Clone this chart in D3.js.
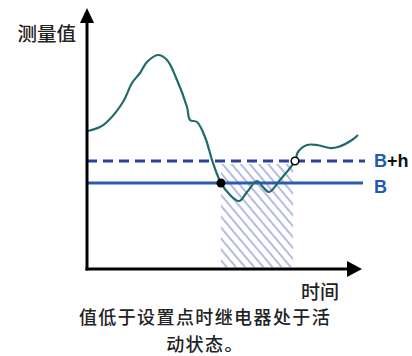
<!DOCTYPE html>
<html>
<head>
<meta charset="utf-8">
<script src="https://cdn.jsdelivr.net/npm/d3@7"></script>
<style>
  body { margin: 0; background: #fff; }
  text { font-family: "Noto Sans CJK SC", "Noto Sans", sans-serif; }
</style>
</head>
<body>
<div id="chart"></div>
<script>
var times  = [1, 13, 20, 36, 45, 53, 60, 71, 80, 90, 100, 103, 110, 118, 126, 134, 143, 152, 160, 170, 176, 182, 193, 208, 211, 220, 230, 243, 251, 265, 271];
var values = [138, 142, 147, 167, 186, 196, 207, 214, 209, 189, 162, 149, 147, 132, 106, 86, 74, 68, 77, 88, 82, 77, 89, 108, 117, 124, 124, 121, 122, 129, 134];

// set point and hysteresis
var setPoint = 86;   // B
var hyst = 22;       // h
var onTime = 134, offTime = 208;   // relay on / off crossings

var labels = {y: "测量值", x: "时间", caption: ["值低于设置点时继电器处于活", "动状态。"]};

var width = 412, height = 356;

var xScale = d3.scaleLinear().domain([0, 275]).range([87, 362]);
var yScale = d3.scaleLinear().domain([0, 261]).range([269, 8]);

var svg = d3.select("#chart").append("svg")
    .attr("width", width)
    .attr("height", height);

// hatch pattern
var defs = svg.append("defs");
var pat = defs.append("pattern")
    .attr("id", "hatch")
    .attr("patternUnits", "userSpaceOnUse")
    .attr("width", 7)
    .attr("height", 7)
    .attr("patternTransform", "rotate(-40)");
pat.append("line")
    .attr("x1", 2).attr("y1", 0)
    .attr("x2", 2).attr("y2", 7)
    .attr("stroke", "#94a0da")
    .attr("stroke-width", 1.4);

// active region
svg.append("rect")
    .attr("x", xScale(onTime))
    .attr("y", yScale(setPoint + hyst) + 3)
    .attr("width", xScale(offTime - 2) - xScale(onTime))
    .attr("height", yScale(0) - yScale(setPoint + hyst) - 5)
    .attr("fill", "url(#hatch)");

// B+h dashed
svg.append("line")
    .attr("x1", xScale(0)).attr("x2", xScale(278))
    .attr("y1", yScale(setPoint + hyst)).attr("y2", yScale(setPoint + hyst))
    .attr("stroke", "#2f3f9e")
    .attr("stroke-width", 3)
    .attr("stroke-dasharray", "10,6");

// B solid
svg.append("line")
    .attr("x1", xScale(0)).attr("x2", xScale(276))
    .attr("y1", yScale(setPoint)).attr("y2", yScale(setPoint))
    .attr("stroke", "#2b5cb5")
    .attr("stroke-width", 3);

// the measured curve
var data = times.map(function(t, i) { return {t: t, v: values[i]}; });
var valueline = d3.line()
    .x(function(d) { return xScale(d.t); })
    .y(function(d) { return yScale(d.v); })
    .curve(d3.curveCatmullRom);

svg.append("path")
    .datum(data)
    .attr("fill", "none")
    .attr("stroke", "#1f6b6b")
    .attr("stroke-width", 2.2)
    .attr("d", valueline);

// crossing dots
svg.append("circle")
    .attr("cx", xScale(onTime)).attr("cy", yScale(setPoint))
    .attr("r", 4.5).attr("fill", "#000");
svg.append("circle")
    .attr("cx", xScale(offTime)).attr("cy", yScale(setPoint + hyst))
    .attr("r", 3.8).attr("fill", "#fff")
    .attr("stroke", "#000").attr("stroke-width", 1.5);

// axes with arrows
var x0 = xScale(0), y0 = yScale(0), xEnd = xScale(275), yEnd = yScale(261);
svg.append("line")
    .attr("x1", x0).attr("x2", x0)
    .attr("y1", y0 + 1.5).attr("y2", yEnd + 12)
    .attr("stroke", "#000").attr("stroke-width", 3);
svg.append("path")
    .attr("d", "M" + x0 + "," + yEnd + "L" + (x0 - 7) + "," + (yEnd + 15) + "L" + (x0 + 7) + "," + (yEnd + 15) + "Z")
    .attr("fill", "#000");
svg.append("line")
    .attr("x1", x0 - 1.5).attr("x2", xEnd - 12)
    .attr("y1", y0).attr("y2", y0)
    .attr("stroke", "#000").attr("stroke-width", 3);
svg.append("path")
    .attr("d", "M" + xEnd + "," + y0 + "L" + (xEnd - 15) + "," + (y0 - 8) + "L" + (xEnd - 15) + "," + (y0 + 8) + "Z")
    .attr("fill", "#000");

// line labels
var bh = svg.append("text")
    .attr("x", 374).attr("y", yScale(setPoint + hyst) + 6)
    .style("font-family", "'Liberation Sans', Arial, sans-serif")
    .style("font-weight", "bold")
    .style("font-size", "18px");
bh.append("tspan").attr("fill", "#2159b8").text("B");
bh.append("tspan").attr("fill", "#111").text("+h");

svg.append("text")
    .attr("x", 374).attr("y", yScale(setPoint) + 10)
    .style("font-family", "'Liberation Sans', Arial, sans-serif")
    .style("font-weight", "bold")
    .style("font-size", "18px")
    .attr("fill", "#2159b8")
    .text("B");

// axis titles
svg.append("text")
    .attr("x", 76).attr("y", 41)
    .attr("text-anchor", "end")
    .style("font-size", "19.5px")
    .style("font-weight", 500)
    .attr("fill", "#222")
    .text(labels.y);

svg.append("text")
    .attr("x", 339).attr("y", 299)
    .attr("text-anchor", "end")
    .style("font-size", "19px")
    .style("font-weight", 500)
    .attr("fill", "#222")
    .text(labels.x);

// caption, two wrapped lines
svg.selectAll(".caption")
    .data(labels.caption)
  .enter().append("text")
    .attr("class", "caption")
    .attr("x", 205)
    .attr("y", function(d, i) { return 324 + i * 26.5; })
    .attr("text-anchor", "middle")
    .style("font-size", "18px")
    .style("letter-spacing", "1.4px")
    .style("font-weight", 500)
    .attr("fill", "#222")
    .text(function(d) { return d; });
</script>
</body>
</html>
